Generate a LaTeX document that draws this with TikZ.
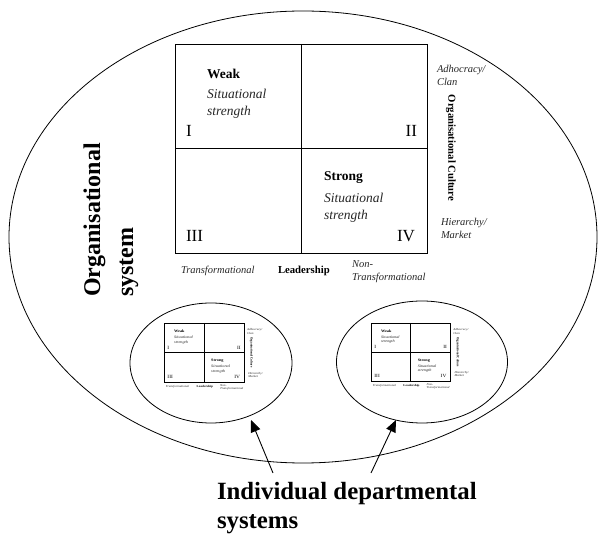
\documentclass[tikz,border=0pt]{standalone}
\usepackage{fontspec}
\setmainfont{Liberation Serif}
\usetikzlibrary{arrows.meta,shapes.geometric}
\tikzset{
  lbl/.style={inner sep=0pt, outer sep=0pt},
  quadtitle/.style={lbl, anchor=west, font=\fontsize{13.5}{16}\selectfont\bfseries},
  quadsub/.style={lbl, anchor=north west, align=left, font=\fontsize{13.5}{17.5}\selectfont\itshape, text=black!85},
  roman/.style={lbl, font=\fontsize{17}{20}\selectfont},
  axis/.style={lbl, font=\fontsize{10.5}{13}\selectfont\itshape, text=black!85, align=left},
  axistitle/.style={lbl, font=\fontsize{10.7}{13}\selectfont\bfseries},
  gridbox/.style={draw, line width=0.9pt, inner sep=0pt, minimum width=252pt, minimum height=209pt, anchor=north west},
  gridline/.style={line width=0.9pt},
  outline/.style={draw, line width=0.8pt},
  bigtitle/.style={lbl, font=\fontsize{24}{33}\selectfont\bfseries, align=left},
  arr/.style={line width=0.9pt, -{Triangle[length=12pt,width=10pt]}}
}
\newcommand\quadgrid[1]{%
  \node[gridbox] (#1box) at (0,0) {};
  \draw[gridline] (#1box.north) -- (#1box.south);
  \draw[gridline] (#1box.west) -- (#1box.east);
  \node[quadtitle] (#1weak) at (32,30) {Weak};
  \node[quadsub] (#1wsub) at (32,45) {Situational\\strength};
  \node[roman, anchor=west] (#1one) at (11,87) {I};
  \node[roman, anchor=east] (#1two) at (242,87) {II};
  \node[quadtitle] (#1strong) at (149,134) {Strong};
  \node[quadsub] (#1ssub) at (149,149) {Situational\\strength};
  \node[roman, anchor=west] (#1three) at (11,192) {III};
  \node[roman, anchor=east] (#1four) at (240,192) {IV};
  \node[axis, anchor=west] (#1trans) at (6,227) {Transformational};
  \node[axistitle, anchor=west] (#1lead) at (103,227) {Leadership};
  \node[axis, anchor=west] (#1non) at (177,228) {Non-\\Transformational};
  \node[axis, anchor=west] (#1adh) at (262,31) {Adhocracy/\\Clan};
  \node[axistitle, rotate=-90] (#1cult) at (276,104) {Organisational Culture};
  \node[axis, anchor=west] (#1hier) at (266,184) {Hierarchy/\\Market};
}
\begin{document}
\begin{tikzpicture}[x=1pt, y=-1pt]
  \useasboundingbox (0,0) rectangle (598,534);
  % outer organisational system
  \node[outline, ellipse, minimum width=588pt, minimum height=452pt, inner sep=0pt] (org) at (303,237) {};
  \node[bigtitle, rotate=90] (orgtitle) at (111,220) {Organisational\\system};
  % main grid
  \begin{scope}[shift={(175,44)}]
    \quadgrid{m}
  \end{scope}
  % departmental systems
  \node[outline, ellipse, minimum width=162pt, minimum height=120pt, inner sep=0pt] (depA) at (211,363) {};
  \node[outline, ellipse, minimum width=171pt, minimum height=122pt, inner sep=0pt] (depB) at (422,362) {};
  \begin{scope}[shift={(164,323)}, xscale=0.317, yscale=0.282, transform shape]
    \quadgrid{a}
  \end{scope}
  \begin{scope}[shift={(371,323)}, xscale=0.314, yscale=0.278, transform shape]
    \quadgrid{b}
  \end{scope}
  % label and arrows
  \node[bigtitle, anchor=west, font=\fontsize{24.8}{29}\selectfont\bfseries] (indiv) at (217,508) {Individual departmental\\systems};
  \coordinate (tA) at (273,473);
  \coordinate (hA) at (251,420);
  \coordinate (tB) at (371,473);
  \coordinate (hB) at (396,420);
  \draw[arr] (tA) -- (hA);
  \draw[arr] (tB) -- (hB);
\end{tikzpicture}
\end{document}
